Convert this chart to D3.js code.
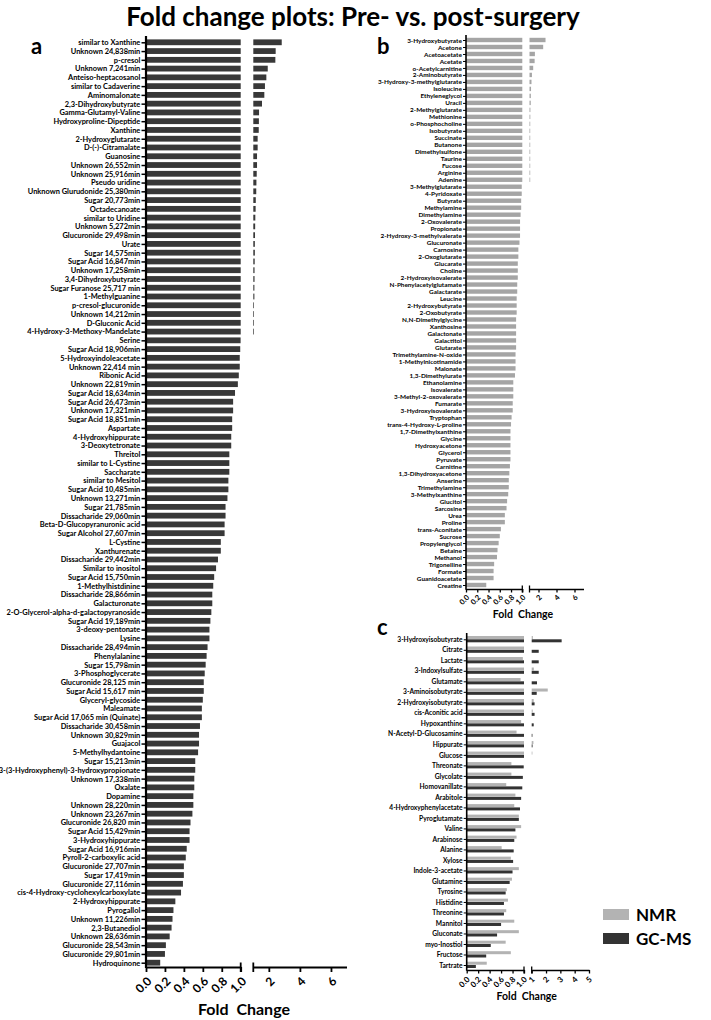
<!DOCTYPE html>
<html><head><meta charset="utf-8">
<script src="https://cdn.jsdelivr.net/npm/d3@7"></script>
<style>
body{margin:0;background:#fff;}
svg text{font-family:Lato,"Open Sans",sans-serif;}
</style></head><body>
<svg id="chart" width="711" height="1020"></svg>
<script>
const titleText = "Fold change plots: Pre- vs. post-surgery";

const aNames = ["similar to Xanthine","Unknown 24,838min","p-cresol","Unknown 7,241min","Anteiso-heptacosanol","similar to Cadaverine","Aminomalonate","2,3-Dihydroxybutyrate","Gamma-Glutamyl-Valine","Hydroxyproline-Dipeptide","Xanthine","2-Hydroxyglutarate","D-(-)-Citramalate","Guanosine","Unknown 26,552min","Unknown 25,916min","Pseudo uridine","Unknown Glurudonide 25,380min","Sugar 20,773min","Octadecanoate","similar to Uridine","Unknown 5,272min","Glucuronide 29,498min","Urate","Sugar 14,575min","Sugar Acid 16,847min","Unknown 17,258min","3,4-Dihydroxybutyrate","Sugar Furanose 25,717 min","1-Methylguanine","p-cresol-glucuronide","Unknown 14,212min","D-Gluconic Acid","4-Hydroxy-3-Methoxy-Mandelate","Serine","Sugar Acid 18,906min","5-Hydroxyindoleacetate","Unknown 22,414 min","Ribonic Acid","Unknown 22,819min","Sugar Acid 18,634min","Sugar Acid 26,473min","Unknown 17,321min","Sugar Acid 18,851min","Aspartate","4-Hydroxyhippurate","3-Deoxytetronate","Threitol","similar to L-Cystine","Saccharate","similar to Mesitol","Sugar Acid 10,485min","Unknown 13,271min","Sugar 21,785min","Dissacharide 29,060min","Beta-D-Glucopyranuronic acid","Sugar Alcohol 27,607min","L-Cystine","Xanthurenate","Dissacharide 29,442min","Similar to inositol","Sugar Acid 15,750min","1-Methylhistdinine","Dissacharide 28,866min","Galacturonate","2-O-Glycerol-alpha-d-galactopyranoside","Sugar Acid 19,189min","3-deoxy-pentonate","Lysine","Dissacharide 28,494min","Phenylalanine","Sugar 15,798min","3-Phosphoglycerate","Glucuronide 28,125 min","Sugar Acid 15,617 min","Glyceryl-glycoside","Maleamate","Sugar Acid 17,065 min (Quinate)","Dissacharide 30,458min","Unknown 30,829min","Guajacol","5-Methylhydantoine","Sugar 15,213min","3-(3-Hydroxyphenyl)-3-hydroxypropionate","Unknown 17,338min","Oxalate","Dopamine","Unknown 28,220min","Unknown 23,267min","Glucuronide 26,820 min","Sugar Acid 15,429min","3-Hydroxyhippurate","Sugar Acid 16,916min","Pyroll-2-carboxylic acid","Glucuronide 27,707min","Sugar 17,419min","Glucuronide 27,116min","cis-4-Hydroxy-cyclohexylcarboxylate","2-Hydroxyhippurate","Pyrogallol","Unknown 11,226min","2,3-Butanediol","Unknown 28,636min","Glucuronide 28,543min","Glucuronide 29,801min","Hydroquinone"];
const aValues = [2.83,2.44,2.42,1.93,1.84,1.75,1.71,1.56,1.37,1.36,1.35,1.28,1.28,1.24,1.24,1.22,1.20,1.19,1.16,1.15,1.13,1.12,1.11,1.10,1.10,1.09,1.08,1.08,1.07,1.07,1.04,1.03,1.02,1.01,
0.999,0.995,0.99,0.99,0.98,0.97,0.94,0.92,0.92,0.91,0.91,0.90,0.90,0.88,0.88,0.88,0.87,
0.87,0.86,0.84,0.84,0.83,0.83,0.79,0.79,0.76,0.74,0.72,0.71,0.70,0.70,0.69,0.68,0.67,0.67,0.65,0.64,0.63,0.62,0.61,0.61,0.60,
0.59,0.59,0.57,0.56,0.56,0.55,0.52,0.52,0.51,0.51,0.50,0.50,0.49,0.47,0.46,0.46,0.43,0.42,0.40,0.40,0.39,0.37,0.31,0.29,0.28,0.27,0.25,0.21,0.20,0.15];

const bNames = ["3-Hydroxybutyrate","Acetone","Acetoacetate","Acetate","o-Acetylcarnitine","2-Aminobutyrate","3-Hydroxy-3-methylglutarate","Isoleucine","Ethyleneglycol","Uracil","2-Methylglutarate","Methionine","o-Phosphocholine","Isobutyrate","Succinate","Butanone","Dimethylsulfone","Taurine","Fucose","Arginine","Adenine","3-Methylglutarate","4-Pyridoxate","Butyrate","Methylamine","Dimethylamine","2-Oxovalerate","Propionate","2-Hydroxy-3-methylvalerate","Glucuronate","Carnosine","2-Oxoglutarate","Glucarate","Choline","2-Hydroxyisovalerate","N-Phenylacetylglutamate","Galactarate","Leucine","2-Hydroxybutyrate","2-Oxobutyrate","N,N-Dimethylglycine","Xanthosine","Galactonate","Galactitol","Glutarate","Trimethylamine-N-oxide","1-Methylnicotinamide","Malonate","1,3-Dimethylurate","Ethanolamine","Isovalerate","3-Methyl-2-oxovalerate","Fumarate","3-Hydroxyisovalerate","Tryptophan","trans-4-Hydroxy-L-proline","1,7-Dimethylxanthine","Glycine","Hydroxyacetone","Glycerol","Pyruvate","Carnitine","1,3-Dihydroxyacetone","Anserine","Trimethylamine","3-Methylxanthine","Glucitol","Sarcosine","Urea","Proline","trans-Aconitate","Sucrose","Propylenglycol","Betaine","Methanol","Trigonelline","Formate","Guanidoacetate","Creatine"];
const bValues = [2.78,2.52,1.60,1.57,1.41,1.27,1.22,1.17,1.15,1.14,1.10,1.09,1.08,1.07,1.06,1.05,1.04,1.03,1.03,1.02,1.02,
0.99,0.99,0.98,0.98,0.97,0.96,0.96,0.96,0.95,0.93,0.93,0.92,0.92,0.92,0.91,0.91,0.90,
0.90,0.90,0.89,0.89,0.89,0.89,0.89,0.88,0.88,0.88,0.87,0.84,0.84,0.84,0.83,0.83,0.81,0.80,0.79,0.79,0.79,0.79,0.79,0.78,0.77,0.76,0.76,0.75,0.73,0.72,0.69,0.69,0.62,0.60,0.58,0.56,0.55,0.50,0.49,0.49,0.36];

const cNames = ["3-Hydroxyisobutyrate","Citrate","Lactate","3-Indoxylsulfate","Glutamate","3-Aminoisobutyrate","2-Hydroxyisobutyrate","cis-Aconitic acid","Hypoxanthine","N-Acetyl-D-Glucosamine","Hippurate","Glucose","Threonate","Glycolate","Homovanillate","Arabitole","4-Hydroxyphenylacetate","Pyroglutamate","Valine","Arabinose","Alanine","Xylose","Indole-3-acetate","Glutamine","Tyrosine","Histidine","Threonine","Mannitol","Gluconate","myo-Inostiol","Fructose","Tartrate"];
const cNMR  = [1.08,1.00,0.98,1.15,0.94,2.12,1.14,1.07,0.95,0.87,1.12,1.04,0.78,0.78,0.69,0.85,0.83,0.91,0.95,0.87,0.61,0.77,0.91,0.79,0.70,0.72,0.69,0.83,0.91,0.68,0.77,0.35];
const cGCMS = [3.09,1.49,1.49,1.49,1.37,1.35,1.20,1.20,1.14,1.05,1.06,1.00,0.995,0.98,0.97,0.95,0.93,0.91,0.85,0.83,0.82,0.81,0.80,0.75,0.68,0.65,0.65,0.60,0.53,0.42,0.34,0.16];

const ticksLow = [0, 0.2, 0.4, 0.6, 0.8, 1.0];
const aTicksHigh = [2, 4, 6];
const bTicksHigh = [2, 4, 6];
const cTicksHigh = [1, 2, 3, 4, 5];
const legendNames = ["NMR", "GC-MS"];
const axisTitle = "Fold  Change";

const svg = d3.select("#chart");
svg.append("rect").attr("width", 711).attr("height", 1020).attr("fill", "#fff");
svg.append("text").attr("x", 353).attr("y", 26).attr("text-anchor", "middle")
  .attr("font-size", 26).attr("font-weight", "bold").attr("fill", "#000").text(titleText);

function panel(o) {
  const g = svg.append("g");
  const y = d3.scalePoint().domain(o.names).range(o.yRange);
  const x1 = d3.scaleLinear().domain([0, 1]).range(o.x1Range);
  const x2 = d3.scaleLinear().domain(o.x2Domain).range(o.x2Range);

  o.series.forEach(s => {
    const data = o.names.map((n, i) => ({ n, v: s.values[i] }));
    g.append("g").selectAll("rect").data(data).join("rect")
      .attr("x", x1(0)).attr("y", d => y(d.n) + s.dy)
      .attr("width", d => x1(Math.min(d.v, 1)) - x1(0))
      .attr("height", s.h).attr("fill", s.color);
    g.append("g").selectAll("rect").data(data.filter(d => d.v > 1)).join("rect")
      .attr("x", x2(1)).attr("y", d => y(d.n) + s.dy)
      .attr("width", d => Math.max(x2(d.v) - x2(1), 0.7))
      .attr("height", s.h).attr("fill", s.color);
  });

  // y axis
  const ya = g.append("g").attr("transform", `translate(${x1(0)},0)`)
    .call(d3.axisLeft(y).tickSize(o.yTick).tickPadding(1.2).tickSizeOuter(0));
  ya.select(".domain").remove();
  ya.attr("font-family", "Lato").attr("font-size", o.labelSize).attr("font-weight", "bold");
  ya.selectAll(".tick line").attr("stroke", "#000").attr("stroke-width", o.yTickW);
  ya.selectAll(".tick text").attr("fill", "#000");
  g.append("line").attr("x1", x1(0)).attr("x2", x1(0)).attr("y1", o.yTop).attr("y2", o.axisY + o.axisW / 2)
    .attr("stroke", "#000").attr("stroke-width", o.axisW);

  // x axes (broken)
  function styleX(ax) {
    ax.attr("font-family", "Lato").attr("font-size", o.tickSize).attr("font-weight", "bold");
    ax.select(".domain").attr("stroke", "#000").attr("stroke-width", o.axisW);
    ax.selectAll(".tick line").attr("stroke", "#000").attr("stroke-width", o.xTickW);
    ax.selectAll(".tick text").attr("fill", "#000").attr("x", 0).attr("y", 0).attr("dy", "0.35em")
      .attr("text-anchor", "end")
      .attr("transform", `translate(${o.lblDx},${o.lblDy}) rotate(-45)`);
  }
  const xa1 = g.append("g").attr("transform", `translate(0,${o.axisY})`)
    .call(d3.axisBottom(x1).tickValues(ticksLow).tickFormat(d3.format(".1f")).tickSize(o.xTick).tickSizeOuter(0));
  styleX(xa1);
  const xa2 = g.append("g").attr("transform", `translate(0,${o.axisY})`)
    .call(d3.axisBottom(x2).tickValues(o.ticksHigh).tickFormat(d3.format("d")).tickSize(o.xTick).tickSizeOuter(0));
  styleX(xa2);
  // break marks
  [x1(1), x2(o.x2Domain[0])].forEach(xx => {
    g.append("line").attr("x1", xx).attr("x2", xx).attr("y1", o.axisY - o.brk).attr("y2", o.axisY + o.xTick)
      .attr("stroke", "#000").attr("stroke-width", o.xTickW);
  });

  g.append("text").attr("x", o.fcX).attr("y", o.fcY).attr("text-anchor", "middle")
    .attr("font-size", o.fcSize).attr("font-weight", "bold").attr("fill", "#000")
    .style("white-space", "pre").text(axisTitle);
  g.append("text").attr("x", o.letterX).attr("y", o.letterY).attr("font-size", o.letterSize)
    .attr("font-weight", "bold").attr("fill", "#000").text(o.letter);
}

panel({
  names: aNames, yRange: [42.3, 962.7], x1Range: [146, 240.7], x2Domain: [1, 7], x2Range: [253.3, 346.5],
  series: [{ values: aValues, color: "#383838", dy: -2.9, h: 5.8 }],
  yTick: 4.5, yTickW: 1.5, labelSize: 7.45, yTop: 36, axisY: 967, axisW: 2.2, xTick: 5, xTickW: 1.8, brk: 4.5,
  ticksHigh: aTicksHigh, tickSize: 12, lblDx: 3, lblDy: 12,
  fcX: 244, fcY: 1015, fcSize: 16, letter: "a", letterX: 31, letterY: 54, letterSize: 22
});

panel({
  names: bNames, yRange: [40, 585], x1Range: [466, 522.3], x2Domain: [1, 7], x2Range: [529.5, 583.5],
  series: [{ values: bValues, color: "#a5a5a5", dy: -2.2, h: 4.4 }],
  yTick: 3, yTickW: 1, labelSize: 6.4, yTop: 35, axisY: 589, axisW: 1.6, xTick: 3.5, xTickW: 1.3, brk: 3.5,
  ticksHigh: bTicksHigh, tickSize: 7.5, lblDx: 1.5, lblDy: 7,
  fcX: 523, fcY: 618, fcSize: 10.5, letter: "b", letterX: 377, letterY: 54, letterSize: 22
});

panel({
  names: cNames, yRange: [639.3, 965], x1Range: [466.7, 524], x2Domain: [1, 5], x2Range: [531.7, 589],
  series: [{ values: cNMR, color: "#b3b3b3", dy: -3.3, h: 3 }, { values: cGCMS, color: "#333333", dy: 0, h: 3 }],
  yTick: 3, yTickW: 1, labelSize: 6.65, yTop: 633, axisY: 970, axisW: 1.6, xTick: 3.5, xTickW: 1.3, brk: 3.5,
  ticksHigh: cTicksHigh, tickSize: 8, lblDx: 1, lblDy: 8,
  fcX: 526.7, fcY: 1000, fcSize: 10.5, letter: "c", letterX: 377, letterY: 635, letterSize: 22
});

// legend
const legColors = d3.scaleOrdinal().domain(legendNames).range(["#b3b3b3", "#333333"]);
const leg = svg.append("g").attr("transform", "translate(603,909)");
legendNames.forEach((n, i) => {
  leg.append("rect").attr("x", 0).attr("y", i * 24).attr("width", 26).attr("height", 11).attr("fill", legColors(n));
  leg.append("text").attr("x", 33).attr("y", i * 24 + 11.5).attr("font-size", 17).attr("font-weight", "bold")
    .attr("fill", "#000").text(n);
});
</script>
</body></html>
